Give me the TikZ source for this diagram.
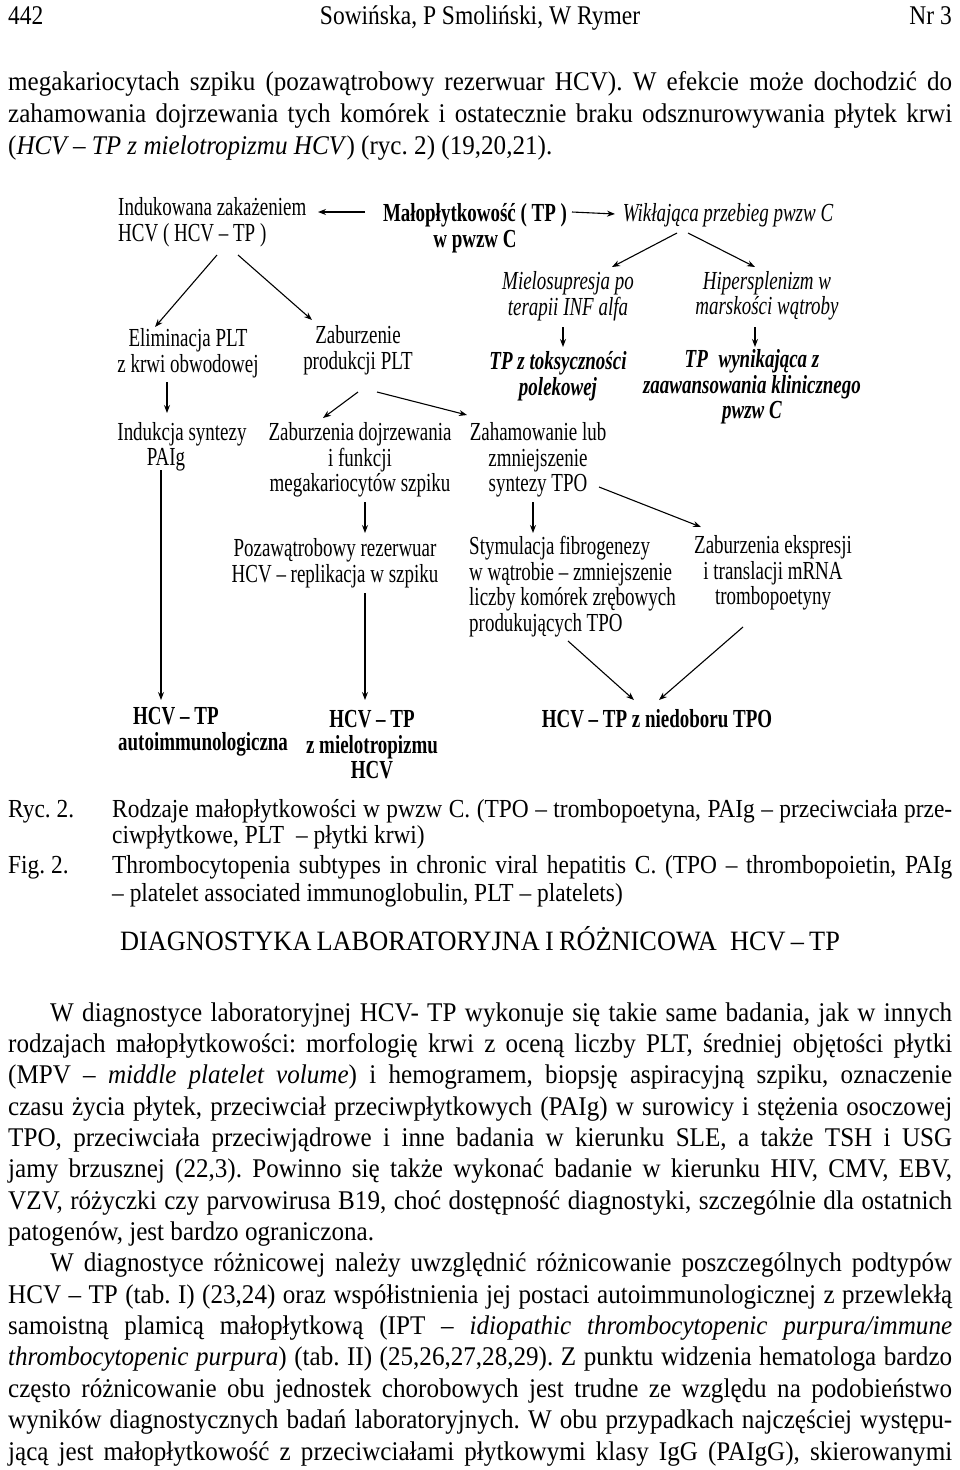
\documentclass[tikz,border=0pt]{standalone}
\usepackage{fontspec}
\setmainfont{Liberation Serif}
\newfontfamily\runfont{Liberation Serif}[FakeStretch=0.87]
\newfontfamily\bodyfont{Liberation Serif}[FakeStretch=0.93]
\newfontfamily\capfont{Liberation Serif}[FakeStretch=0.9]
\newfontfamily\headfont{Liberation Serif}[FakeStretch=0.94]
\newfontfamily\diagfont{Liberation Serif}[FakeStretch=0.73]
\usetikzlibrary{positioning, arrows.meta, calc}
\frenchspacing

% justified and last lines of a paragraph
\newcommand\jline[2][944pt]{\hbox to #1{#2}}
\newcommand\lastline[2][944pt]{\hbox to #1{#2\hfil}}

\begin{document}
\begin{tikzpicture}[
  x=1pt, y=-1pt,
  dg/.style={font=\diagfont\fontsize{26}{25.5}\selectfont,
    inner sep=0pt, align=center},
  dgbold/.style={dg, font=\diagfont\bfseries\fontsize{26}{25.5}\selectfont},
  dgital/.style={dg, font=\diagfont\itshape\fontsize{26}{25.5}\selectfont},
  dgbi/.style={dg, font=\diagfont\bfseries\itshape\fontsize{26}{25.5}\selectfont},
  runlbl/.style={font=\runfont\fontsize{27}{32}\selectfont, inner sep=0pt},
  bodytxt/.style={font=\bodyfont\fontsize{27}{31.36}\selectfont, inner sep=0pt},
  captxt/.style={font=\capfont\fontsize{26}{27}\selectfont, inner sep=0pt},
  headtxt/.style={font=\headfont\fontsize{28}{32}\selectfont, inner sep=0pt},
  flowarr/.style={-{Stealth[length=8pt, width=6pt]}, line width=1.1pt},
]

% ---- Page ----
\fill[white] (0,0) rectangle (960,1470);
\useasboundingbox (0,0) rectangle (960,1470);

% ---- Running head ----
\node[runlbl, anchor=base west] (pgno) at (8,24) {442};
\node[runlbl, anchor=base] (authors) at (480,24) {Sowińska, P Smoliński, W Rymer};
\node[runlbl, anchor=base east] (issue) at (952,24) {Nr 3};

% ---- Text above the figure ----
\node[bodytxt, anchor=base west] (paratop) at (8,90) {\vtop{\baselineskip=32pt
  \jline{megakariocytach szpiku (pozawątrobowy rezerwuar HCV). W efekcie może dochodzić do}
  \jline{zahamowania dojrzewania tych komórek i ostatecznie braku odsznurowywania płytek krwi}
  \lastline{(\textit{HCV – TP z mielotropizmu HCV}) (ryc. 2) (19,20,21).}}};

% ======== Figure: top row ========
\node[dg, align=left, anchor=west] (ind) at (118,222) {Indukowana zakażeniem\\HCV ( HCV – TP )};
\node[dgbold] (mal) at (475,228) {Małopłytkowość ( TP )\\w pwzw C};
\node[dgital] (wik) at (728,215) {Wikłająca przebieg pwzw C};

% ======== Figure: second row ========
\node[dg] (eli) at (188,353) {Eliminacja PLT\\z krwi obwodowej};
\node[dg] (zab) at (358,350) {Zaburzenie\\produkcji PLT};
\node[dgital] (mie) at (568,296) {Mielosupresja po\\terapii INF alfa};
\node[dgital] (hip) at (767,296) {Hipersplenizm w\\marskości wątroby};
\node[dgbi] (tox) at (558,376) {TP z toksyczności\\polekowej};
\node[dgbi] (adv) at (752,387) {TP\hspace{6pt} wynikająca z\\zaawansowania klinicznego\\pwzw C};

% ======== Figure: third row ========
\node[dg] (pai) at (182,447) {Indukcja syntezy\\\hspace*{-32pt}PAIg};
\node[dg] (mat) at (360,460) {Zaburzenia dojrzewania\\i funkcji\\megakariocytów szpiku};
\node[dg] (zah) at (538,460) {Zahamowanie lub\\zmniejszenie\\syntezy TPO};

% ======== Figure: fourth row ========
\node[dg] (poz) at (335,563) {Pozawątrobowy rezerwuar\\HCV – replikacja w szpiku};
\node[dg, align=left, anchor=west] (sty) at (469,586.5) {Stymulacja fibrogenezy\\w wątrobie – zmniejszenie\\liczby komórek zrębowych\\produkujących TPO};
\node[dg] (eks) at (773,573) {Zaburzenia ekspresji\\i translacji mRNA\\trombopoetyny};

% ======== Figure: outcomes ========
\node[dgbold, align=left, anchor=west] (auto) at (118,732) {\hspace*{15pt}HCV – TP\\autoimmunologiczna};
\node[dgbold] (miel) at (372,745) {HCV – TP\\z mielotropizmu\\HCV};
\node[dgbold] (nied) at (657,719) {HCV – TP z niedoboru TPO};

% ======== Connectors ========
\draw[flowarr] ($(mal)+(-110,-16)$) -- ($(ind.west)+(200,-10)$);
\draw[flowarr] ($(mal)+(97,-16)$) -- ($(wik)+(-113,-1)$);
\draw[flowarr] ($(ind.west)+(99,33)$) -- ($(eli)+(-33,-26)$);
\draw[flowarr] ($(ind.west)+(120,33)$) -- ($(zab)+(-46,-30)$);
\draw[flowarr] ($(wik)+(-51,18)$) -- ($(mie)+(44,-29)$);
\draw[flowarr] ($(wik)+(-40,18)$) -- ($(hip)+(-12,-29)$);
\draw[flowarr] ($(mie)+(-5,31)$) -- ($(tox)+(5,-29)$);
\draw[flowarr] ($(hip)+(-12,31)$) -- ($(adv)+(3,-40)$);
\draw[flowarr] ($(eli)+(-21,29)$) -- ($(pai)+(-15,-34)$);
\draw[flowarr] ($(zab)+(0,42)$) -- ($(mat)+(-37,-42)$);
\draw[flowarr] ($(zab)+(19,42)$) -- ($(zah)+(-71,-45)$);
\draw[flowarr] ($(mat)+(5,42)$) -- ($(poz)+(30,-30)$);
\draw[flowarr] ($(poz)+(30,30)$) -- ($(miel)+(-7,-45)$);
\draw[flowarr] ($(pai)+(-21,23)$) -- ($(auto.west)+(43,-32)$);
\draw[flowarr] ($(zah)+(-5,42)$) -- ($(sty.west)+(64,-53.5)$);
\draw[flowarr] ($(zah)+(61,27)$) -- ($(eks)+(-72,-46)$);
\draw[flowarr] ($(sty.west)+(99,54.5)$) -- ($(nied)+(-23,-19)$);
\draw[flowarr] ($(eks)+(-30,54)$) -- ($(nied)+(2,-19)$);

% ---- Caption ----
\node[captxt, anchor=base west] (ryclbl) at (8,817) {Ryc. 2.};
\node[captxt, anchor=base west] (ryc) at (112,817) {\vtop{\baselineskip=26pt
  \jline[840pt]{Rodzaje małopłytkowości w pwzw C. (TPO – trombopoetyna, PAIg – przeciwciała prze-}
  \lastline[840pt]{ciwpłytkowe, PLT\hspace{6pt} – płytki krwi)}}};
\node[captxt, anchor=base west] (figlbl) at (8,873) {Fig. 2.};
\node[captxt, anchor=base west] (fig) at (112,873) {\vtop{\baselineskip=28pt
  \jline[840pt]{Thrombocytopenia subtypes in chronic viral hepatitis C. (TPO – thrombopoietin, PAIg}
  \lastline[840pt]{– platelet associated immunoglobulin, PLT – platelets)}}};

% ---- Section heading ----
\node[headtxt, anchor=base] (head) at (480,950) {\hbox to 720pt{DIAGNOSTYKA LABORATORYJNA I RÓŻNICOWA\hspace{8pt} HCV – TP}};

% ---- Body text ----
\node[bodytxt, anchor=base west] (body) at (8,1021) {\vtop{\baselineskip=31.36pt
  \jline{\hskip42pt W diagnostyce laboratoryjnej HCV- TP wykonuje się takie same badania, jak w innych}
  \jline{rodzajach małopłytkowości: morfologię krwi z oceną liczby PLT, średniej objętości płytki}
  \jline{(MPV – \textit{middle platelet volume}) i hemogramem, biopsję aspiracyjną szpiku, oznaczenie}
  \jline{czasu życia płytek, przeciwciał przeciwpłytkowych (PAIg) w surowicy i stężenia osoczowej}
  \jline{TPO, przeciwciała przeciwjądrowe i inne badania w kierunku SLE, a także TSH i USG}
  \jline{jamy brzusznej (22,3). Powinno się także wykonać badanie w kierunku HIV, CMV, EBV,}
  \jline{VZV, różyczki czy parvowirusa B19, choć dostępność diagnostyki, szczególnie dla ostatnich}
  \lastline{patogenów, jest bardzo ograniczona.}
  \jline{\hskip42pt W diagnostyce różnicowej należy uwzględnić różnicowanie poszczególnych podtypów}
  \jline{HCV – TP (tab. I) (23,24) oraz współistnienia jej postaci autoimmunologicznej z przewlekłą}
  \jline{samoistną plamicą małopłytkową (IPT – \textit{idiopathic thrombocytopenic purpura/immune}}
  \jline{\textit{thrombocytopenic purpura}) (tab. II) (25,26,27,28,29). Z punktu widzenia hematologa bardzo}
  \jline{często różnicowanie obu jednostek chorobowych jest trudne ze względu na podobieństwo}
  \jline{wyników diagnostycznych badań laboratoryjnych. W obu przypadkach najczęściej występu-}
  \jline{jącą jest małopłytkowość z przeciwciałami płytkowymi klasy IgG (PAIgG), skierowanymi}}};

\end{tikzpicture}
\end{document}
